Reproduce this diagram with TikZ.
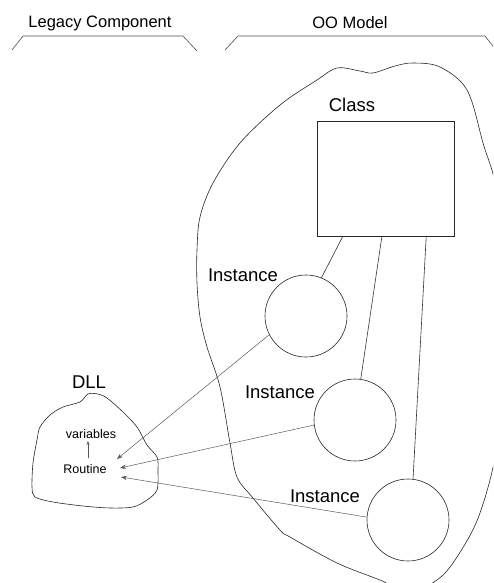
\documentclass[tikz,border=0pt]{standalone}
\usepackage{fontspec}
\setmainfont{Liberation Sans}
\usetikzlibrary{arrows.meta,calc}
\begin{document}
\begin{tikzpicture}[x=1pt,y=-1pt,
  outline/.style={line width=0.6pt,draw=black!85},
  bracketline/.style={line width=0.6pt,draw=black!70},
  inst/.style={circle,draw=black!85,line width=0.6pt,minimum size=82pt,inner sep=0pt},
  lbl/.style={font=\fontsize{18.5}{20}\selectfont,inner sep=0pt},
  hdr/.style={font=\fontsize{16.5}{18}\selectfont,inner sep=0pt},
  small/.style={font=\fontsize{12.5}{14}\selectfont,inner sep=0pt},
  link/.style={line width=0.6pt,draw=black!80},
  callarr/.style={line width=0.5pt,draw=black!65,-{Stealth[length=6pt,width=4.5pt]}}]
\useasboundingbox (0,0) rectangle (493,583);
\clip (0,0) rectangle (493,583);
% headers
\node[hdr] (hleg) at (100,23) {Legacy Component};
\node[hdr] (hoo) at (350,23) {OO Model};
\draw[bracketline] (12,50) -- (23,36) -- (183,36) -- (197,51);
\draw[bracketline] (225,50) -- (238,36) -- (485,36) -- (496,50);
% big OO blob
\draw[outline] plot[smooth cycle,tension=0.55] coordinates {
 (240,143) (280,105) (317,80) (337,68) (360,71) (373,73) (395,66) (413,63) (440,67)
 (467,90) (483,143) (498,200) (505,330) (498,440) (480,513) (457,557) (437,580)
 (408,592) (380,580) (337,563) (290,537) (280,530) (253,498) (237,477) (230,443)
 (220,387) (207,347) (200,317) (197,283) (197,250) (200,217) (213,183)};
% DLL blob
\draw[outline] plot[smooth cycle,tension=0.5] coordinates {
 (88,394) (98,394) (107,398) (123,412) (137,427) (147,445) (157,457) (158,470)
 (157,490) (147,500) (133,507) (110,508) (83,506) (53,502) (35,497) (32,487)
 (33,463) (37,440) (40,427) (50,415) (63,407) (80,402)};
% class
\node[lbl] (classl) at (352,105) {Class};
\node[draw=black!85,line width=0.6pt,minimum width=137pt,minimum height=115pt,inner sep=0pt] (cls) at (385.5,178.5) {};
% instances
\node[inst] (c1) at (306,316) {};
\node[inst] (c2) at (355,420) {};
\node[inst] (c3) at (408,520) {};
\node[lbl] (i1) at (243,275) {Instance};
\node[lbl] (i2) at (280,392) {Instance};
\node[lbl] (i3) at (325,496) {Instance};
\draw[link] ($(cls.south west)!0.19!(cls.south east)$) -- (c1.68);
\draw[link] ($(cls.south west)!0.474!(cls.south east)$) -- (c2.82);
\draw[link] ($(cls.south west)!0.796!(cls.south east)$) -- (c3.83);
% DLL content
\node[lbl] (dll) at (89,382) {DLL};
\node[small] (vars) at (91,434) {variables};
\node[small] (rout) at (85,469) {Routine};
\coordinate (va) at (88,458);
\coordinate (vb) at (88,441);
\draw[callarr,-{Stealth[length=4pt,width=3pt]}] (va) -- (vb);
\coordinate (r1) at (117,459);
\coordinate (r2) at (120,468);
\coordinate (r3) at (121,477);
\draw[callarr] (c1.207) -- (r1);
\draw[callarr] (c2.187) -- (r2);
\draw[callarr] (c3.176) -- (r3);
\end{tikzpicture}
\end{document}
